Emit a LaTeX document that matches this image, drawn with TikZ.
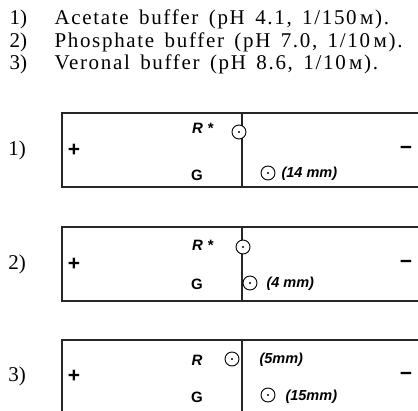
\documentclass[tikz,border=0pt]{standalone}
\usepackage{fontspec}
\setmainfont{Liberation Serif}
\newfontfamily\labfont{Liberation Sans}
\newfontfamily\buffont[LetterSpace=8,WordSpace=1.5]{Liberation Serif}
\usepackage{tikz}

\begin{document}
\begin{tikzpicture}[x=1pt,y=-1pt,
    buf/.style={anchor=base west,font=\buffont\fontsize{21}{23}\selectfont},
    side/.style={font=\fontsize{21}{23}\selectfont},
    lab/.style={font=\labfont\bfseries\fontsize{15}{17}\selectfont},
    mm/.style={anchor=west,font=\labfont\bfseries\itshape\fontsize{14.5}{16}\selectfont},
    sign/.style={font=\labfont\bfseries\fontsize{21}{23}\selectfont},
    box/.style={line width=1.3pt,black!85},
    spot/.style={circle,draw,fill=white,line width=0.9pt,inner sep=0pt,minimum size=14pt,
      path picture={\fill[black] (path picture bounding box.center) circle (1.1pt);}}]
    \clip (0,0) rectangle (418,410);
    \foreach \k/\txt/\bl in {
      1/{Acetate buffer (pH 4.1, 1/150\,м).}/24,
      2/{Phosphate buffer (pH 7.0, 1/10\,м).}/47,
      3/{Veronal buffer (pH 8.6, 1/10\,м).}/69}{
      \node[anchor=base west,side] (n\k) at (6,\bl) {\k)};
      \node[buf] (buf\k) at (51,\bl) {\txt};
    }
    \foreach \k/\top/\bot in {1/113/187, 2/227/301, 3/340/413}{
      \pgfmathsetmacro\mid{(\top+\bot)/2}
      \draw[box] (62,\top) rectangle (440,\bot);
      \draw[box] (242,\top) -- (242,\bot);
      \node[side] (s\k) at (17,\mid) {\k)};
      \node[sign] (p\k) at (74,\mid) {+};
      \node[sign] (m\k) at (406,\mid) {−};
    }
    % strip 1
    \node[lab] (r1) at (203,128) {\textit{R}\hspace{5pt}*};
    \node[spot] (rs1) at (239,132) {};
    \node[lab] (g1) at (197,175) {G};
    \node[spot] (gs1) at (268,173) {};
    \node[mm] (gd1) at (278,174) {(14 mm)};
    % strip 2
    \node[lab] (r2) at (203,245) {\textit{R}\hspace{5pt}*};
    \node[spot] (rs2) at (243,247) {};
    \node[lab] (g2) at (197,284) {G};
    \node[spot] (gs2) at (250,283) {};
    \node[mm] (gd2) at (263,284) {(4 mm)};
    % strip 3
    \node[lab] (r3) at (197,360) {\textit{R}};
    \node[spot] (rs3) at (232,359) {};
    \node[mm] (rd3) at (256,360) {(5mm)};
    \node[lab] (g3) at (197,397) {G};
    \node[spot] (gs3) at (268,395) {};
    \node[mm] (gd3) at (282,397) {(15mm)};
  \end{tikzpicture}
\end{document}
